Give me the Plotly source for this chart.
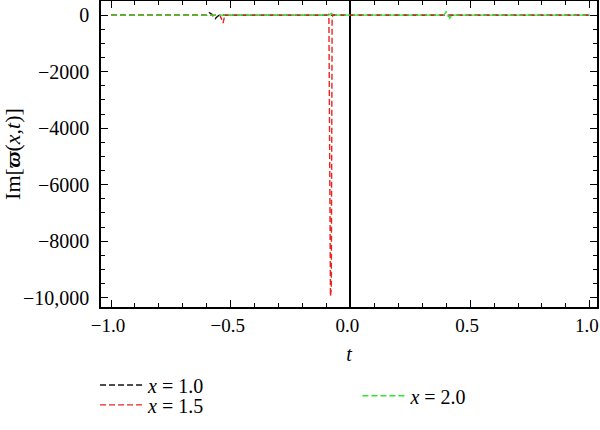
import plotly.graph_objects as go

# Series x = 1.0 (black)
t_x10 = [-1.0, -0.60, -0.590, -0.580, -0.572, -0.565, -0.557, -0.548, 1.0]
im_x10 = [0, 0, 90, 40, -60, -130, -60, 0, 0]

# Series x = 1.5 (red)
t_x15 = [-1.0, -0.545, -0.538, -0.532, -0.525, -0.095, -0.090, -0.0865, -0.0835, -0.080, -0.0765, -0.072, -0.065, 0.40, 0.41, 0.42, 1.0]
im_x15 = [0, 0, -150, -280, 0, 0, 40, -9950, -9950, -9700, -80, 20, 0, 0, -40, 0, 0]

# Series x = 2.0 (green)
t_x20 = [-1.0, -0.09, -0.08, -0.07, 0.39, 0.400, 0.408, 0.415, 0.425, 1.0]
im_x20 = [0, 0, 60, 0, 0, 120, 20, -110, 0, 0]

names = ["<i>x</i> = 1.0", "<i>x</i> = 1.5", "<i>x</i> = 2.0"]
colors = ["#111111", "#e8251f", "#2ee82a"]

ytickvals = [0, -2000, -4000, -6000, -8000, -10000]
yticktext = ["0", "\u22122000", "\u22124000", "\u22126000", "\u22128000", "\u221210,000"]
xtickvals = [-1.0, -0.5, 0.0, 0.5, 1.0]
xticktext = ["\u22121.0", "\u22120.5", "0.0", "0.5", "1.0"]

FONT = "Liberation Serif"
DASH = "6px,3px"

fig = go.Figure()
fig.add_trace(go.Scatter(x=t_x10, y=im_x10, mode="lines", name=names[0], showlegend=True,
                         line=dict(color=colors[0], width=1.4, dash=DASH), legend="legend"))
fig.add_trace(go.Scatter(x=t_x15, y=im_x15, mode="lines", name=names[1], showlegend=True,
                         line=dict(color=colors[1], width=1.4, dash=DASH), legend="legend3"))
fig.add_trace(go.Scatter(x=t_x20, y=im_x20, mode="lines", name=names[2], showlegend=True,
                         line=dict(color=colors[2], width=1.4, dash=DASH), legend="legend2"))

axis_common = dict(showline=True, linecolor="black", linewidth=1.5, mirror="allticks",
                   ticks="inside", ticklen=7, tickwidth=1.3, tickcolor="black",
                   showgrid=False, automargin=False, ticklabeloverflow="allow")

fig.update_xaxes(**axis_common, range=[-1.042, 1.03], tickmode="array",
                 tickvals=xtickvals, ticktext=xticktext, ticklabelshift=-3,
                 tickfont=dict(family=FONT, size=19, color="black"),
                 zeroline=True, zerolinecolor="black", zerolinewidth=1.5,
                 minor=dict(tickmode="linear", ticks="inside", ticklen=4, tickwidth=1.1,
                            tickcolor="black", dtick=0.1, tick0=0, showgrid=False),
                 title=dict(text="<i>t</i>", font=dict(family=FONT, size=20, color="black"), standoff=12))
fig.update_yaxes(**axis_common, range=[-10330, 500], tickmode="array",
                 tickvals=ytickvals, ticktext=yticktext, ticklabelstandoff=6,
                 tickfont=dict(family=FONT, size=20, color="black"),
                 zeroline=False,
                 minor=dict(tickmode="linear", ticks="inside", ticklen=4, tickwidth=1.1,
                            tickcolor="black", dtick=500, tick0=0, showgrid=False),
                 title=dict(text="Im[<b><i>\u03d6</i></b>(<i>x</i>,<i>t</i>)]",
                            font=dict(family=FONT, size=22, color="black"), standoff=4))

legend_common = dict(orientation="v", xanchor="left", yanchor="middle", bgcolor="rgba(0,0,0,0)",
                     font=dict(family=FONT, size=20, color="black"), itemwidth=43,
                     tracegroupgap=0, visible=True)
fig.update_layout(
    width=600, height=430,
    showlegend=True,
    margin=dict(l=101, r=3, t=1, b=123, autoexpand=False),
    plot_bgcolor="white", paper_bgcolor="white",
    font=dict(family=FONT, color="black"),
    legend=dict(**legend_common, x=-0.012, y=-0.255),
    legend3=dict(**legend_common, x=-0.012, y=-0.32),
    legend2=dict(**legend_common, x=0.517, y=-0.29),
)

fig.write_html("out.html", config={"displayModeBar": False},
               post_script="document.body.style.margin='0px';")
